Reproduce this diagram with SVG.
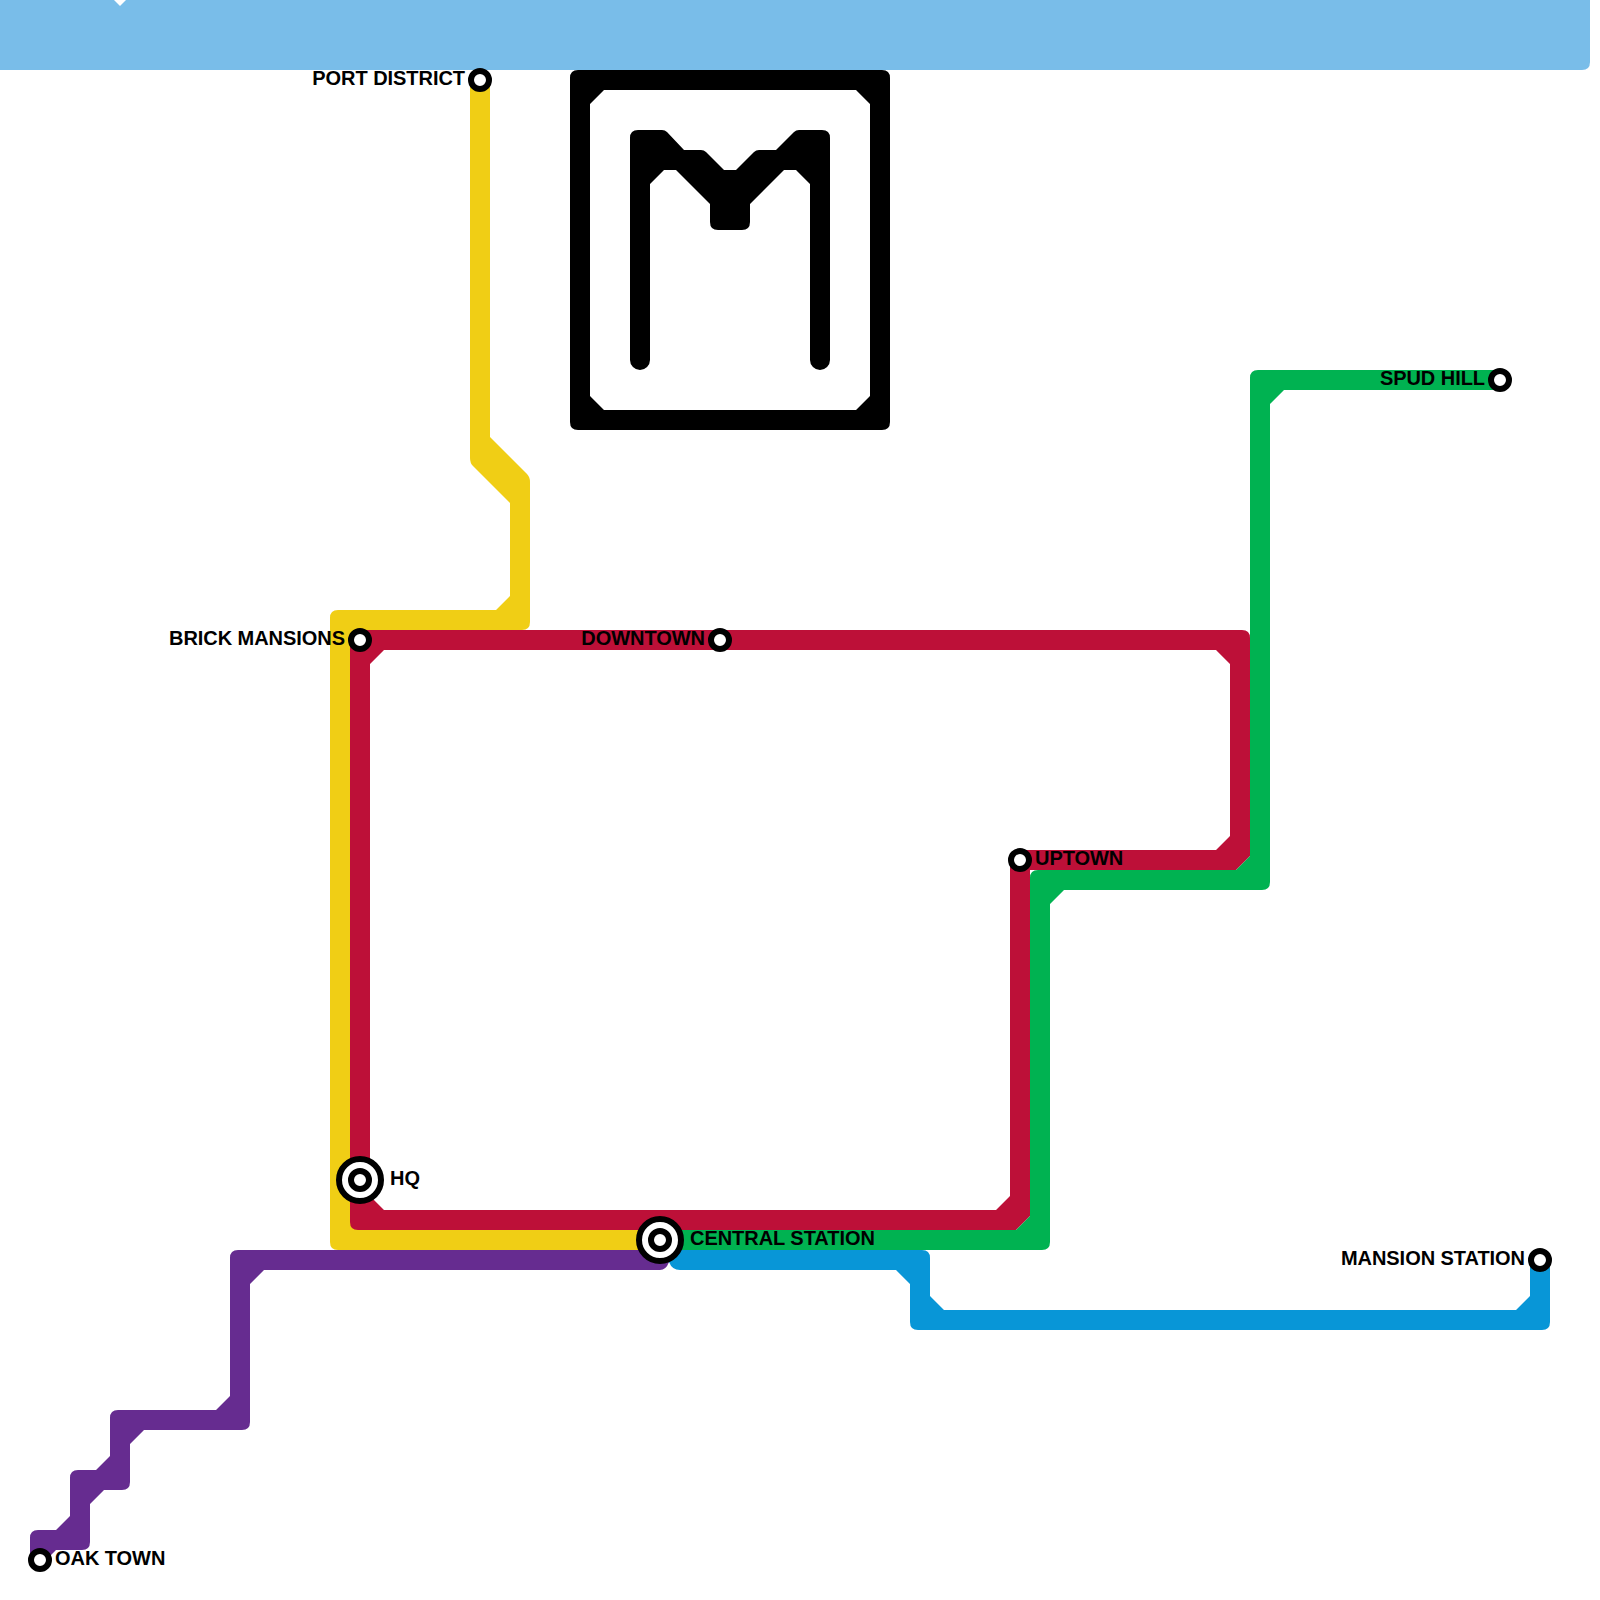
<svg xmlns="http://www.w3.org/2000/svg" width="1600" height="1600" viewBox="0 0 1600 1600">
<style>
.line{fill-rule:evenodd}
.st{fill:#fff;stroke:#000;stroke-width:6}
.lb{font-family:"Liberation Sans",Arial,sans-serif;font-weight:700;font-size:20px;letter-spacing:-0.05px;fill:#000}
.e{text-anchor:end}
</style>
<rect width="1600" height="1600" fill="#fff"/>
<g id="river"><path d="M0,0H1590V62Q1590,70 1582,70H0Z" fill="#79bde9"/><path d="M114,0L120,6L126,0Z" fill="#fff"/></g>
<g id="logo"><path class="line" fill="#000" d="M578,70H882Q890,70 890,78V422Q890,430 882,430H578Q570,430 570,422V78Q570,70 578,70ZM604,90L590,104V396L604,410H856L870,396V104L856,90Z"/>
<path fill="#000" d="M638,130H662Q665,130 667,132L684,150H701Q704,150 706,152L724,170H736L754,152Q756,150 759,150H776L794,132Q796,130 799,130H822Q830,130 830,138V360A10,10 0 0 1 810,360V184L796,170H784L750,204V222Q750,230 742,230H718Q710,230 710,222V204L676,170H664L650,184V360A10,10 0 0 1 630,360V138Q630,130 638,130Z"/></g>
<g id="connectors">
<path id="line-purple" class="line" fill="#662c90" d="M238,1250H662Q669,1250 669,1258V1262Q666,1270 660,1270H264L250,1284V1422Q250,1430 242,1430H144L130,1444V1482Q130,1490 122,1490H104L90,1504V1542Q90,1550 82,1550H56L50,1556V1560H30V1538Q30,1530 38,1530H56L70,1516V1478Q70,1470 78,1470H96L110,1456V1418Q110,1410 118,1410H216L230,1396V1258Q230,1250 238,1250Z"/>
<path id="line-blue" class="line" fill="#0896d7" d="M660,1250H922Q930,1250 930,1258V1296L944,1310H1516L1530,1296V1260H1550V1322Q1550,1330 1542,1330H918Q910,1330 910,1322V1284L896,1270H680Q672,1270 669,1262Z"/>
<path id="line-yellow" class="line" fill="#f0ce15" d="M470,80H490V437L527,474Q530,477 530,482V622Q530,630 522,630H358V1222H660V1250H338Q330,1250 330,1242V618Q330,610 338,610H496L510,596V503L473,466Q470,463 470,458Z"/>
<path id="line-red" class="line" fill="#bd1038" d="M358,630H1242Q1250,630 1250,638V856L1236,870H1030V1216L1016,1230H358Q350,1230 350,1222V638Q350,630 358,630ZM384,650L370,664V1196L384,1210H996L1010,1196V858Q1010,850 1018,850H1216L1230,836V664L1216,650Z"/>
<path id="line-green" class="line" fill="#00b251" d="M1258,370H1500V390H1284L1270,404V882Q1270,890 1262,890H1064L1050,904V1242Q1050,1250 1042,1250H660V1230H1016L1030,1216V878Q1030,870 1038,870H1236L1250,856V378Q1250,370 1258,370Z"/>
</g>
<g id="port-district"><circle class="st" cx="480" cy="80" r="9"/><text class="lb e" x="465" y="84.5">PORT DISTRICT</text></g>
<g id="brick-mansions"><circle class="st" cx="360" cy="640" r="9"/><text class="lb e" x="345" y="644.5">BRICK MANSIONS</text></g>
<g id="downtown"><circle class="st" cx="720" cy="640" r="9"/><text class="lb e" x="705" y="644.5">DOWNTOWN</text></g>
<g id="uptown"><circle class="st" cx="1020" cy="860" r="9"/><text class="lb" x="1035" y="864.5">UPTOWN</text></g>
<g id="spud-hill"><circle class="st" cx="1500" cy="380" r="9"/><text class="lb e" x="1485" y="384.5">SPUD HILL</text></g>
<g id="mansion-station"><circle class="st" cx="1540" cy="1260" r="9"/><text class="lb e" x="1525" y="1264.5">MANSION STATION</text></g>
<g id="oak-town"><circle class="st" cx="40" cy="1560" r="9"/><text class="lb" x="55" y="1564.5">OAK TOWN</text></g>
<g id="hq"><circle class="st" cx="360" cy="1180" r="21"/><circle class="st" cx="360" cy="1180" r="9"/><text class="lb" x="390" y="1184.5">HQ</text></g>
<g id="central-station"><circle class="st" cx="660" cy="1240" r="21"/><circle class="st" cx="660" cy="1240" r="9"/><text class="lb" x="690" y="1244.5">CENTRAL STATION</text></g>
</svg>
